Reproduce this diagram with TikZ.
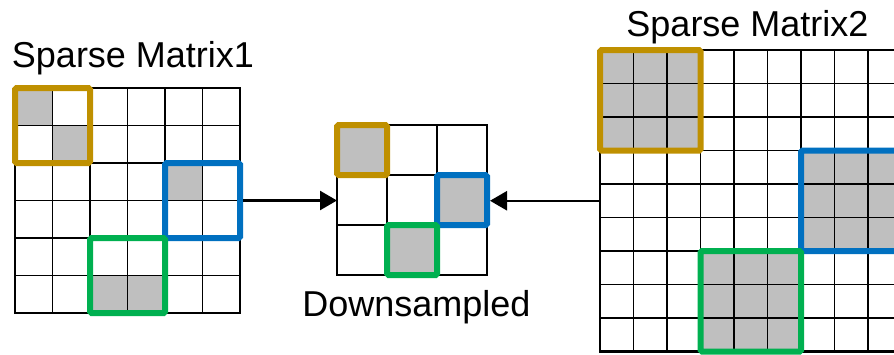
\documentclass[tikz,border=0pt]{standalone}
\usepackage{fontspec}
\setmainfont{Liberation Sans}
\usetikzlibrary{arrows.meta}
\definecolor{framegold}{RGB}{191,144,0}
\definecolor{frameblue}{RGB}{0,112,192}
\definecolor{framegreen}{RGB}{0,176,80}
\definecolor{cellgray}{RGB}{191,191,191}
\begin{document}
\begin{tikzpicture}[x=1pt,y=-1pt,
  title/.style={font=\fontsize{36}{40}\selectfont, inner sep=0pt, anchor=base},
  gridline/.style={line width=1.7pt},
  mat/.style={draw, line width=2.8pt, inner sep=0pt, outer sep=0pt},
  selbox/.style={draw, line width=6pt, rounded corners=1.5pt, inner sep=0pt},
  arr/.style={-{Triangle[length=17pt,width=19pt]}, line width=2.5pt}]
\useasboundingbox (0,0) rectangle (894,354);
\clip (0,0) rectangle (894,354);
% sparse matrix 1 (6x6)
\foreach \c/\r in {0/0,1/1,4/2,2/5,3/5}
  \fill[cellgray] ({15+37.5*\c},{88+37.5*\r}) rectangle ++(37.5,37.5);
\foreach \i in {1,...,5} {
  \draw[gridline] ({15+37.5*\i},88) -- ++(0,225);
  \draw[gridline] (15,{88+37.5*\i}) -- ++(225,0);
}
\node[mat, minimum size=225pt] (mat1) at (127.5,200.5) {};
\node[selbox, draw=framegold, minimum size=75pt] (gold1) at (52.5,125.5) {};
\node[selbox, draw=frameblue, minimum size=75pt] (blue1) at (202.5,200.5) {};
\node[selbox, draw=framegreen, minimum size=75pt] (green1) at (127.5,275.5) {};
\node[title] (lab1) at (133,67.7) {Sparse Matrix1};
% downsampled (3x3)
\foreach \c/\r in {0/0,2/1,1/2}
  \fill[cellgray] ({337+50*\c},{125+50*\r}) rectangle ++(50,50);
\foreach \i in {1,2} {
  \draw[gridline] ({337+50*\i},125) -- ++(0,150);
  \draw[gridline] (337,{125+50*\i}) -- ++(150,0);
}
\node[mat, minimum size=150pt] (down) at (412,200) {};
\node[selbox, draw=framegold, minimum size=50pt] (gold2) at (362,150) {};
\node[selbox, draw=frameblue, minimum size=50pt] (blue2) at (462,200) {};
\node[selbox, draw=framegreen, minimum size=50pt] (green2) at (412,250) {};
\node[title] (lab2) at (416.5,316.7) {Downsampled};
% sparse matrix 2 (9x9)
\foreach \c/\r in {0/0,1/0,2/0,0/1,1/1,2/1,0/2,1/2,2/2,
                   6/3,7/3,8/3,6/4,7/4,8/4,6/5,7/5,8/5,
                   3/6,4/6,5/6,3/7,4/7,5/7,3/8,4/8,5/8}
  \fill[cellgray] ({600+33.5*\c},{50+33.5*\r}) rectangle ++(33.5,33.5);
\foreach \i in {1,...,8} {
  \draw[gridline] ({600+33.5*\i},50) -- ++(0,301.5);
  \draw[gridline] (600,{50+33.5*\i}) -- ++(301.5,0);
}
\node[mat, minimum size=301.5pt] (mat2) at (750.75,200.75) {};
\node[selbox, draw=framegold, minimum size=100.5pt] (gold3) at (650.25,100.25) {};
\node[selbox, draw=frameblue, minimum size=100.5pt] (blue3) at (851.25,200.75) {};
\node[selbox, draw=framegreen, minimum size=100.5pt] (green3) at (750.75,301.25) {};
\node[title] (lab3) at (747.5,36.7) {Sparse Matrix2};
% arrows
\draw[arr] (blue1.east) -- (blue1.east -| down.west);
\draw[arr] (mat2.west) -- (mat2.west -| blue2.east);
\end{tikzpicture}
\end{document}
